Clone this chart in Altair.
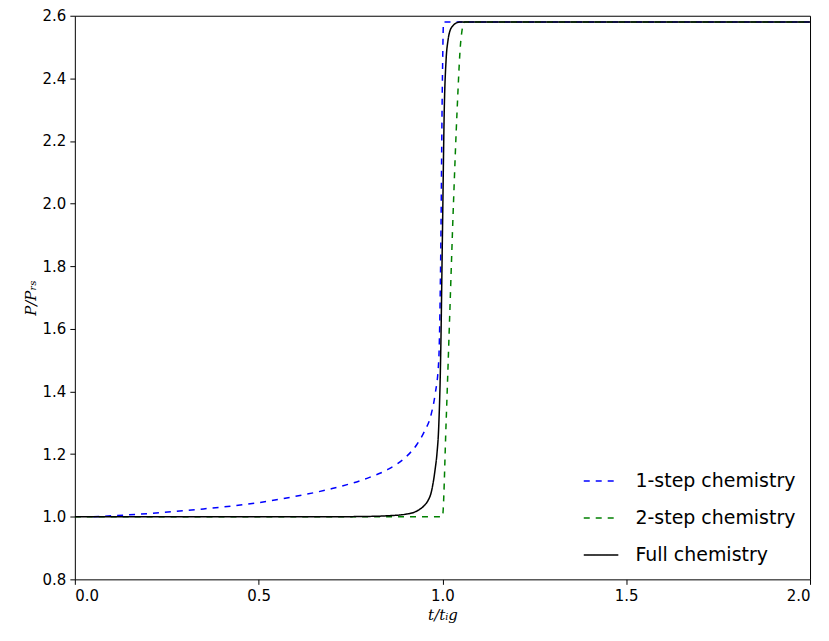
import altair as alt
import pandas as pd

# 1-step chemistry
t1 = [0.05, 0.2, 0.35, 0.5, 0.6, 0.7, 0.8, 0.85, 0.9, 0.93, 0.95, 0.97, 0.98, 0.99, 0.995, 1.0, 1.003, 2.0]
p1 = [1.0, 1.01, 1.025, 1.045, 1.065, 1.09, 1.125, 1.15, 1.19, 1.23, 1.27, 1.33, 1.39, 1.5, 1.8, 2.4, 2.58, 2.58]

# 2-step chemistry
t2 = [0.0, 0.999, 1.0, 1.01, 1.02, 1.03, 1.04, 1.05, 1.06, 2.0]
p2 = [1.0, 1.0, 1.0, 1.3, 1.65, 2.0, 2.3, 2.52, 2.58, 2.58]

# Full chemistry
t3 = [0.0, 0.7, 0.8, 0.85, 0.9, 0.93, 0.95, 0.96, 0.97, 0.975, 0.98, 0.985, 0.99, 0.995, 1.0, 1.005, 1.01, 1.015, 1.02, 1.03, 1.04, 1.05, 2.0]
p3 = [1.0, 1.0, 1.001, 1.003, 1.008, 1.018, 1.035, 1.05, 1.08, 1.11, 1.15, 1.2, 1.29, 1.5, 1.9, 2.3, 2.46, 2.52, 2.55, 2.57, 2.578, 2.58, 2.58]

names = ["1-step chemistry", "2-step chemistry", "Full chemistry"]

rows = []
for name, ts, ps in zip(names, [t1, t2, t3], [p1, p2, p3]):
    for i, (t, p) in enumerate(zip(ts, ps)):
        rows.append({"series": name, "t": t, "p": p, "order": i})
df = pd.DataFrame(rows)

chart = (
    alt.Chart(df)
    .mark_line(strokeWidth=1.5, clip=True, interpolate="monotone")
    .encode(
        x=alt.X("t:Q", title="t/tᵢg", scale=alt.Scale(domain=[0, 2], nice=False),
                axis=alt.Axis(values=[0, 0.5, 1.0, 1.5, 2.0], format=".1f")),
        y=alt.Y("p:Q", title="P/Pᵣₛ", scale=alt.Scale(domain=[0.8, 2.6], nice=False),
                axis=alt.Axis(values=[0.8, 1.0, 1.2, 1.4, 1.6, 1.8, 2.0, 2.2, 2.4, 2.6], format=".1f")),
        color=alt.Color("series:N", title=None,
                        scale=alt.Scale(domain=names, range=["#0000ff", "#008000", "#000000"])),
        strokeDash=alt.StrokeDash("series:N", title=None,
                                  scale=alt.Scale(domain=names, range=[[6, 6], [6, 6], [1, 0]])),
        order="order:Q",
        detail="series:N",
    )
    .properties(width=737, height=565, padding={"left": 15, "top": 0, "right": 10, "bottom": 0})
    .configure_view(stroke="black", strokeWidth=1)
    .configure_axis(
        labelFont="DejaVu Sans", labelFontSize=15, labelColor="black",
        titleFont="DejaVu Serif", titleFontSize=15, titleFontStyle="italic",
        titleFontWeight="normal", titleColor="black",
        grid=False, domain=False, tickColor="black", tickSize=5, labelPadding=4,
    )
    .configure_legend(
        orient="bottom-right", labelFont="DejaVu Sans", labelFontSize=19,
        symbolType="stroke", symbolSize=1200, symbolStrokeWidth=1.5,
        rowPadding=8, offset=14, labelLimit=300, labelOffset=16,
    )
)

chart.save("out.html", embed_options={"renderer": "svg", "actions": False})
